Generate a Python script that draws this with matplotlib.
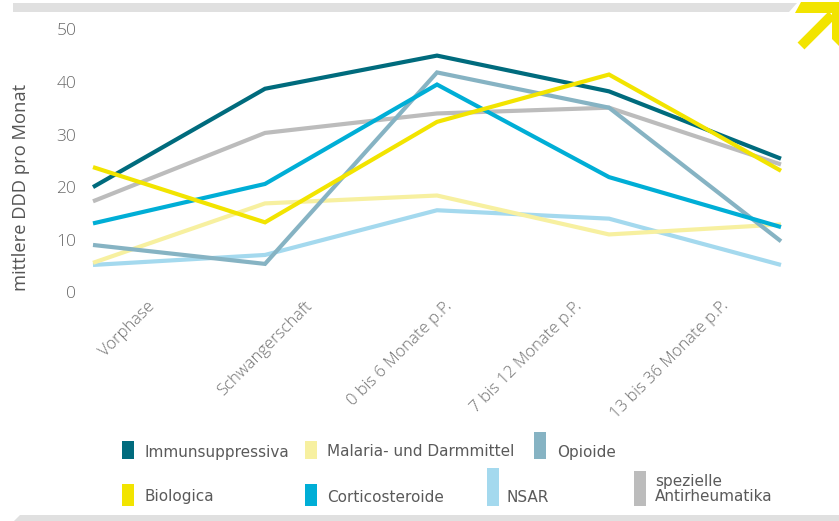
import matplotlib
matplotlib.use("Agg")
import matplotlib.pyplot as plt
import matplotlib.transforms as mtransforms
from matplotlib.patches import Rectangle, Polygon
from matplotlib.lines import Line2D

# Zeitraum relativ zur Geburt
phases = ["Vorphase", "Schwangerschaft", "0 bis 6 Monate p.P.",
          "7 bis 12 Monate p.P.", "13 bis 36 Monate p.P."]

# mittlere DDD pro Monat je Wirkstoffgruppe
immunsuppressiva = [20.0, 38.7, 45.0, 38.2, 25.4]
malaria_darm = [5.6, 16.9, 18.4, 11.0, 12.9]
opioide = [9.0, 5.4, 41.8, 35.1, 9.7]
biologica = [23.8, 13.3, 32.4, 41.4, 23.1]
corticosteroide = [13.1, 20.6, 39.5, 21.9, 12.4]
nsar = [5.2, 7.1, 15.6, 14.0, 5.2]
spez_antirheuma = [17.3, 30.3, 34.0, 35.1, 24.3]

yticks = [0, 10, 20, 30, 40, 50]

C_IMMUN = "#006b7d"
C_MALARIA = "#f7f0a0"
C_OPIOIDE = "#86b3c3"
C_BIO = "#f2e400"
C_CORTICO = "#00aed6"
C_NSAR = "#a4d9ee"
C_SPEZ = "#bcbcbc"
C_BAR = "#e0e0e0"

W, H = 839, 521
fig = plt.figure(figsize=(W / 100, H / 100), dpi=100)
fig.patch.set_facecolor("white")


def px(x, y):
    # pixel position (origin top left) -> figure fraction
    return x / W, 1 - y / H


ax = fig.add_axes([93 / W, 1 - 292.3 / H, 688 / W, 263 / H])
ax.set_xlim(0, 4)
ax.set_ylim(0, 50)

x = list(range(len(phases)))
series = [
    (spez_antirheuma, C_SPEZ),
    (nsar, C_NSAR),
    (malaria_darm, C_MALARIA),
    (opioide, C_OPIOIDE),
    (immunsuppressiva, C_IMMUN),
    (corticosteroide, C_CORTICO),
    (biologica, C_BIO),
]
for vals, col in series:
    ax.plot(x, vals, color=col, lw=3.0, solid_joinstyle="miter",
            solid_capstyle="butt", clip_on=False)

for s in ax.spines.values():
    s.set_visible(False)
ax.tick_params(length=0)

ax.set_yticks(yticks)
ax.set_yticklabels([str(v) for v in yticks], fontsize=12.5, color="#6a6a6a",
                   family="Open Sans", fontweight="light")
ax.tick_params(axis="y", pad=12)

ax.set_xticks(x)
ax.set_xticklabels(phases, rotation=45, ha="right", va="top",
                   rotation_mode="anchor", fontsize=12, color="#707070",
                   family="Open Sans", fontweight="light")
# shift the rotated category labels
label_dx = [54, 39, 7, -35, -60]
for lab, dx in zip(ax.get_xticklabels(), label_dx):
    lab.set_transform(lab.get_transform() +
                      mtransforms.ScaledTranslation(dx / 100, -1 / 100, fig.dpi_scale_trans))

ax.set_ylabel("mittlere DDD pro Monat", fontsize=13.2, color="#555555",
              family="Open Sans")
ax.yaxis.set_label_coords(-0.092, 0.40)

# legend
leg_font = dict(fontsize=11, color="#5a5a5a", family=["Liberation Sans Narrow", "DejaVu Sans"])
legend_items = [
    ("Immunsuppressiva", C_IMMUN, 122, 441, 459, 145, 452),
    ("Malaria- und Darmmittel", C_MALARIA, 305, 441, 459, 327, 452),
    ("Opioide", C_OPIOIDE, 534, 432, 459, 557, 452),
    ("Biologica", C_BIO, 122, 484, 506, 145, 497),
    ("Corticosteroide", C_CORTICO, 305, 484, 506, 327, 497),
    ("NSAR", C_NSAR, 487, 468, 506, 507, 497),
    ("spezielle\nAntirheumatika", C_SPEZ, 634, 471, 506, 655, 489),
]
for name, col, bx, btop, bbot, tx, ty in legend_items:
    x0, y0 = px(bx, bbot)
    fig.add_artist(Rectangle((x0, y0), 12 / W, (bbot - btop) / H, color=col,
                             transform=fig.transFigure, lw=0))
    fig.text(*px(tx, ty), name, ha="left", va="center", linespacing=0.95, **leg_font)

# frame bars top and bottom
fig.add_artist(Polygon([px(13, 3), px(797, 3), px(789, 12), px(13, 12)],
                       closed=True, color=C_BAR, lw=0, transform=fig.transFigure))
fig.add_artist(Polygon([px(20, 515), px(839, 515), px(839, 521), px(14, 521)],
                       closed=True, color=C_BAR, lw=0, transform=fig.transFigure))

# yellow arrow in the corner
fig.add_artist(Polygon([px(801, 2), px(840, 2), px(840, 47), px(832, 39),
                        px(832, 13), px(795, 13)],
                       closed=True, color=C_BIO, lw=0, transform=fig.transFigure))
sx0, sy0 = px(801, 46)
sx1, sy1 = px(832, 15)
fig.add_artist(Line2D([sx0, sx1], [sy0, sy1], color=C_BIO, lw=7,
                      solid_capstyle="butt", transform=fig.transFigure))

fig.savefig("out.png", dpi=100)
